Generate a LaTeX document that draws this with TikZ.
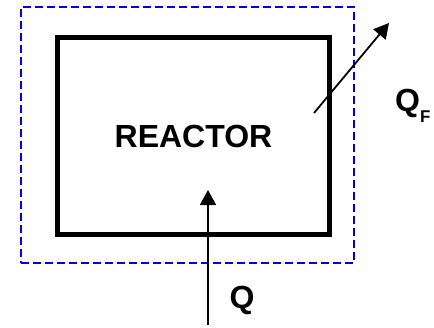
\documentclass[tikz,border=0pt]{standalone}
\usepackage{fontspec}
\setmainfont{Liberation Sans}
\usetikzlibrary{positioning,arrows.meta,calc}
\definecolor{BoundBlue}{RGB}{0,0,230}
\tikzset{
  heatflow/.style={-{Triangle[length=15pt,width=16pt]},line width=1.8pt,draw=black},
  vessel/.style={draw=black,line width=4.8pt,minimum width=272pt,minimum height=197pt,
    inner sep=0pt,align=center,font=\fontsize{32}{38}\selectfont\bfseries},
  boundary/.style={draw=BoundBlue,line width=1.8pt,dash pattern=on 8pt off 4pt,
    minimum width=333pt,minimum height=256pt,inner sep=0pt},
  heatlabel/.style={font=\fontsize{32}{38}\selectfont\bfseries,inner sep=0pt}
}
\begin{document}
\begin{tikzpicture}[x=1pt,y=-1pt]
  \useasboundingbox (0,0) rectangle (434,327);
  \node[boundary] (system) at (187.5,135) {};
  \node[vessel] (reactor) at (193.5,136) {REACTOR};
  % heat supplied from below
  \coordinate (qin) at (208,325);
  \coordinate (qend) at (208,190);
  \draw[heatflow] (qin) -- (qend);
  \node[heatlabel,anchor=base] (qlabel) at (242,308) {Q};
  % heat lost to the surroundings
  \coordinate (qfstart) at (314,113);
  \coordinate (qfend) at (389,23);
  \draw[heatflow] (qfstart) -- (qfend);
  \node[heatlabel,anchor=base west] (qflabel) at (395,111)
    {Q\raisebox{-11pt}{\fontsize{17}{17}\selectfont F}};
\end{tikzpicture}
\end{document}
